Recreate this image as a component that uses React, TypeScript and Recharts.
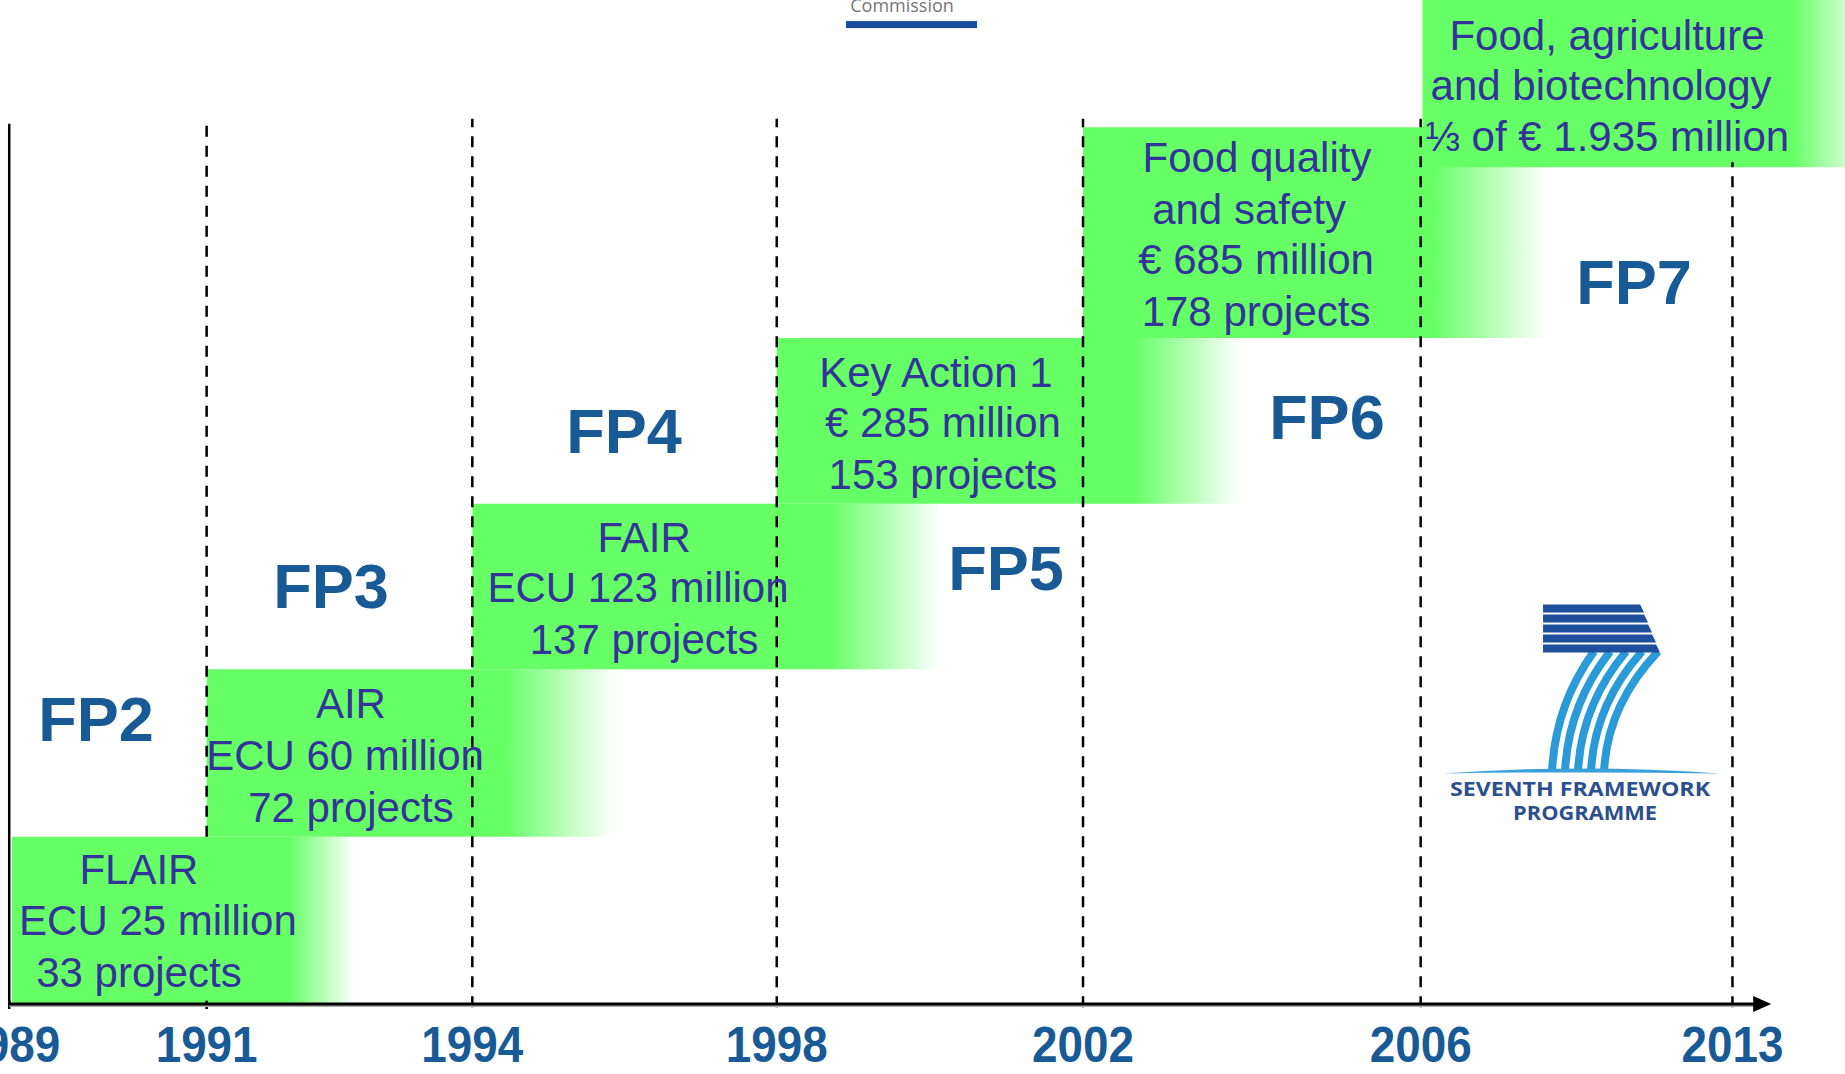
import { ComposedChart, XAxis, YAxis, ReferenceArea, ReferenceLine, Scatter } from 'recharts'

// timeline positions are in % of the chart width, levels are the staircase steps
const yearLabels = ['1989', '1991', '1994', '1998', '2002', '2006', '2013']
const yearPos = [0.5, 11.2, 25.6, 42.1, 58.7, 77.0, 93.9]
const lineBottoms = [0, 1, -0.02, -0.02, -0.02, -0.02, -0.02]
const lineTops = [5.26, 5.26, 5.29, 5.29, 5.29, 5.29, 5.03]
const axisEnd = 96

const boxStart = [0.65, 11.2, 25.6, 42.1, 58.7, 77.1]
const boxSolidEnd = [15.7, 27.4, 45.0, 61.5, 77.7, 97.2]
const boxFadeEnd = [19.2, 33.3, 51.0, 67.2, 83.8, 101.4]
const boxBottom = [0, 1, 2, 2.99, 3.98, 5]
const boxTop = [1, 2, 2.99, 3.98, 5.24, 6]

const boxLines = [
  { x: 7.53, y: 0.81, text: 'FLAIR' },
  { x: 8.56, y: 0.5, text: 'ECU 25 million' },
  { x: 7.53, y: 0.19, text: '33 projects' },
  { x: 19.02, y: 1.8, text: 'AIR' },
  { x: 18.7, y: 1.49, text: 'ECU 60 million' },
  { x: 19.02, y: 1.18, text: '72 projects' },
  { x: 34.91, y: 2.79, text: 'FAIR' },
  { x: 34.58, y: 2.49, text: 'ECU 123 million' },
  { x: 34.91, y: 2.18, text: '137 projects' },
  { x: 50.73, y: 3.78, text: 'Key Action 1' },
  { x: 51.11, y: 3.48, text: '€ 285 million' },
  { x: 51.11, y: 3.17, text: '153 projects' },
  { x: 68.13, y: 5.06, text: 'Food quality' },
  { x: 67.7, y: 4.75, text: 'and safety' },
  { x: 68.08, y: 4.45, text: '€ 685 million' },
  { x: 68.08, y: 4.14, text: '178 projects' },
  { x: 87.1, y: 5.79, text: 'Food, agriculture' },
  { x: 86.78, y: 5.49, text: 'and biotechnology' },
  { x: 87.1, y: 5.19, text: '⅓ of € 1.935 million' },
]

const fpLabels = [
  { x: 5.2, y: 1.71, text: 'FP2' },
  { x: 17.94, y: 2.5, text: 'FP3' },
  { x: 33.82, y: 3.43, text: 'FP4' },
  { x: 54.53, y: 2.61, text: 'FP5' },
  { x: 71.92, y: 3.51, text: 'FP6' },
  { x: 88.56, y: 4.32, text: 'FP7' },
]

const headerAnchor = [{ x: 49.38, y: 5.88 }]
const logoAnchor = [{ x: 85.64, y: 1.82 }]

const GREEN = '#66ff66'
const TEXT_BLUE = '#333399'
const FP_BLUE = '#175a96'

function YearTick(props: any) {
  const { x, y, payload } = props
  const label = yearLabels[yearPos.indexOf(payload.value)]
  return (
    <text
      x={x}
      y={y}
      dy={58}
      textAnchor="middle"
      fontSize={50}
      fontWeight="bold"
      fill={FP_BLUE}
      textLength={102}
      lengthAdjust="spacingAndGlyphs"
      fontFamily="'Liberation Sans', Arial, sans-serif"
    >
      {label}
    </text>
  )
}

function BoxText(props: any) {
  const { cx, cy, payload } = props
  return (
    <text x={cx} y={cy} dy="0.36em" textAnchor="middle" fontSize={42} fill={TEXT_BLUE}
      fontFamily="'Liberation Sans', Arial, sans-serif">
      {payload.text}
    </text>
  )
}

function FpText(props: any) {
  const { cx, cy, payload } = props
  return (
    <text x={cx} y={cy} dy="0.36em" textAnchor="middle" fontSize={63} fontWeight="bold" fill={FP_BLUE}
      fontFamily="'Liberation Sans', Arial, sans-serif">
      {payload.text}
    </text>
  )
}

function Header(props: any) {
  const { cx, cy } = props
  return (
    <g>
      <text x={cx - 9} y={cy - 8} textAnchor="middle" fontSize={18} fill="#777"
        fontFamily="'Open Sans', sans-serif">
        Commission
      </text>
      <rect x={cx - 65} y={cy + 1} width={131} height={7} fill="#1a4a9a" />
    </g>
  )
}

function Fp7Logo(props: any) {
  const { cx, cy } = props
  const idx = [0, 1, 2, 3, 4]
  return (
    <g>
      {idx.map((i) => {
        const xt = cx + 14 + i * 16
        const yt = cy - 48
        const xb = cx - 28 + i * 13
        const yb = cy + 72
        return (
          <path key={`d${i}`} d={`M${xt},${yt} Q${xb + 3},${cy + 6} ${xb},${yb}`}
            stroke="#2a9ad8" strokeWidth={8} fill="none" />
        )
      })}
      {idx.map((i) => {
        const y = cy - 95 + i * 10
        const xr = cx + 60 + i * 4
        return (
          <polygon key={`s${i}`} points={`${cx - 37},${y} ${xr},${y} ${xr + 4},${y + 8} ${cx - 37},${y + 8}`}
            fill="#1d4f9c" />
        )
      })}
      <path d={`M${cx - 137},${cy + 74} Q${cx},${cy + 64} ${cx + 140},${cy + 74} Q${cx},${cy + 72} ${cx - 137},${cy + 74} Z`}
        fill="#3aa0dc" />
      <text x={cx} y={cy + 97} textAnchor="middle" fontSize={19} fontWeight="bold" fill="#2b4f8f"
        textLength={260} lengthAdjust="spacingAndGlyphs" fontFamily="'Open Sans', sans-serif">
        SEVENTH FRAMEWORK
      </text>
      <text x={cx + 5} y={cy + 121} textAnchor="middle" fontSize={19} fontWeight="bold" fill="#2b4f8f"
        textLength={144} lengthAdjust="spacingAndGlyphs" fontFamily="'Open Sans', sans-serif">
        PROGRAMME
      </text>
    </g>
  )
}

function ArrowAxis(props: any) {
  const { x1, y1, x2, y2 } = props
  return (
    <g>
      <line x1={x1} y1={y1 + 2} x2={x2 - 14} y2={y2 + 2} stroke="#aaa" strokeWidth={2} />
      <line x1={x1} y1={y1} x2={x2 - 14} y2={y2} stroke="#000" strokeWidth={3} />
      <polygon points={`${x2},${y2} ${x2 - 18},${y2 - 8} ${x2 - 18},${y2 + 8}`} fill="#000" />
    </g>
  )
}

export default function App() {
  return (
    <div style={{ position: 'absolute', left: 0, top: 0, background: '#fff' }}>
      <ComposedChart width={1845} height={1074} margin={{ top: 0, right: 0, bottom: 0, left: 0 }}>
        <defs>
          {boxStart.map((s, i) => (
            <linearGradient key={i} id={`fade${i}`} x1="0" y1="0" x2="1" y2="0">
              <stop offset={0} stopColor={GREEN} stopOpacity={1} />
              <stop offset={(boxSolidEnd[i] - s) / (boxFadeEnd[i] - s)} stopColor={GREEN} stopOpacity={1} />
              <stop offset={1} stopColor={GREEN} stopOpacity={0} />
            </linearGradient>
          ))}
        </defs>
        <XAxis
          type="number"
          dataKey="x"
          domain={[0, 100]}
          allowDataOverflow
          ticks={yearPos}
          interval={0}
          tick={<YearTick />}
          axisLine={false}
          tickLine={false}
          tickSize={0}
          tickMargin={0}
          height={70}
        />
        <YAxis type="number" dataKey="y" domain={[0, 6]} allowDataOverflow hide />
        {boxStart.map((s, i) => (
          <ReferenceArea
            key={`box${i}`}
            x1={s}
            x2={boxFadeEnd[i]}
            y1={boxBottom[i]}
            y2={boxTop[i]}
            fill={`url(#fade${i})`}
            fillOpacity={1}
            stroke="none"
            ifOverflow="visible"
          />
        ))}
        <ReferenceLine
          segment={[{ x: yearPos[0], y: lineBottoms[0] }, { x: yearPos[0], y: lineTops[0] }]}
          stroke="#000"
          strokeWidth={2.5}
          ifOverflow="visible"
        />
        {yearPos.slice(1).map((p, i) => (
          <ReferenceLine
            key={`yl${i}`}
            segment={[{ x: p, y: lineBottoms[i + 1] }, { x: p, y: lineTops[i + 1] }]}
            stroke="#000"
            strokeWidth={2.5}
            strokeDasharray="11 9"
            ifOverflow="visible"
          />
        ))}
        {yearPos.slice(0, 2).map((p, i) => (
          <ReferenceLine
            key={`tk${i}`}
            segment={[{ x: p, y: -0.03 }, { x: p, y: 0.02 }]}
            stroke="#000"
            strokeWidth={2.5}
            ifOverflow="visible"
          />
        ))}
        <ReferenceLine
          segment={[{ x: yearPos[0], y: 0 }, { x: axisEnd, y: 0 }]}
          shape={(p: any) => <ArrowAxis {...p} />}
          ifOverflow="visible"
        />
        <Scatter data={boxLines} dataKey="y" shape={(p: any) => <BoxText {...p} />} isAnimationActive={false} />
        <Scatter data={fpLabels} dataKey="y" shape={(p: any) => <FpText {...p} />} isAnimationActive={false} />
        <Scatter data={headerAnchor} dataKey="y" shape={(p: any) => <Header {...p} />} isAnimationActive={false} />
        <Scatter data={logoAnchor} dataKey="y" shape={(p: any) => <Fp7Logo {...p} />} isAnimationActive={false} />
      </ComposedChart>
    </div>
  )
}
